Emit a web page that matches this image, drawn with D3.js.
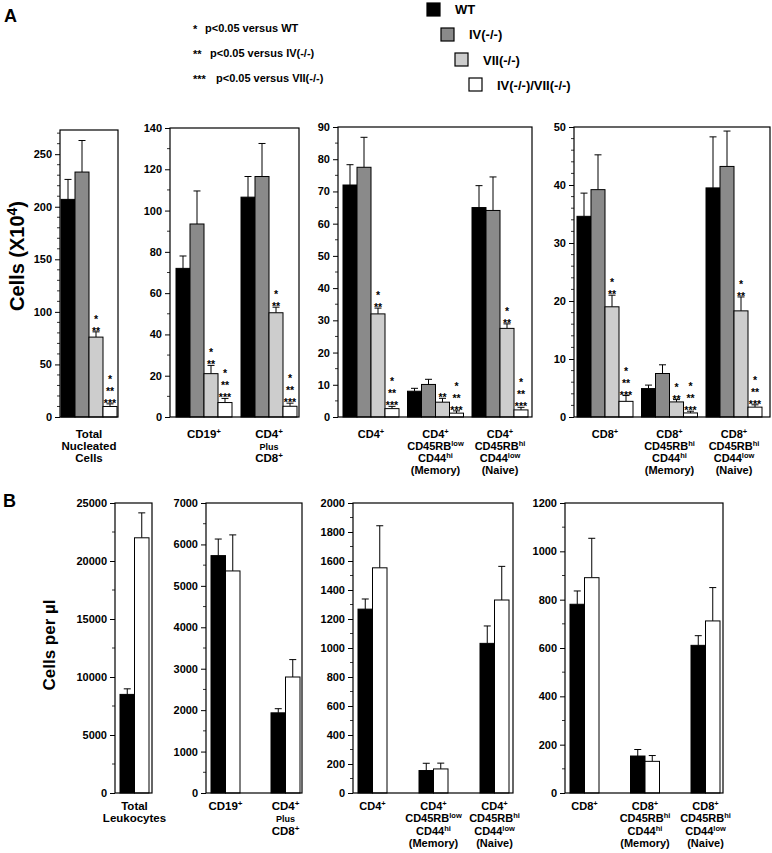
<!DOCTYPE html>
<html><head><meta charset="utf-8">
<script src="https://cdn.jsdelivr.net/npm/d3@7"></script>
<style>body{margin:0;background:#fff;}svg{display:block;}text{font-family:"Liberation Sans",Arial,Helvetica,sans-serif;font-weight:bold;fill:#000;}</style>
</head><body>
<svg id="chart" width="772" height="853"></svg>
<script>
// ---------------- DATA ----------------
const seriesA = ["WT", "IV(-/-)", "VII(-/-)", "IV(-/-)/VII(-/-)"];
const seriesB = ["WT", "IV(-/-)/VII(-/-)"];
const starNotes = ["p<0.05 versus WT", "p<0.05 versus IV(-/-)", "p<0.05 versus VII(-/-)"];

// Panel A1
const catsA1 = ["Total|Nucleated|Cells"];
const wtA1 = [207], ivA1 = [233], viiA1 = [76], dkoA1 = [10];
const wtA1Err = [19], ivA1Err = [30], viiA1Err = [5], dkoA1Err = [2.5];
const viiA1Stars = ["*|**"], dkoA1Stars = ["*|**|***"];
const ticksA1 = [0, 50, 100, 150, 200, 250];

// Panel A2
const catsA2 = ["CD19^+", "CD4^+|~Plus|CD8^+"];
const wtA2 = [72, 106.5], ivA2 = [93.5, 116.5], viiA2 = [21, 50.5], dkoA2 = [7, 5.2];
const wtA2Err = [6, 10], ivA2Err = [16, 16], viiA2Err = [4, 2.7], dkoA2Err = [2, 1.5];
const viiA2Stars = ["*|**", "*|**"], dkoA2Stars = ["*|**|***", "*|**|***"];
const ticksA2 = [0, 20, 40, 60, 80, 100, 120, 140];

// Panel A3
const catsA3 = ["CD4^+", "CD4^+|CD45RB^low|CD44^hi|(Memory)", "CD4^+|CD45RB^hi|CD44^low|(Naive)"];
const wtA3 = [72, 8, 65], ivA3 = [77.5, 10.1, 64.1], viiA3 = [32, 4.6, 27.5], dkoA3 = [2.6, 1.2, 2.2];
const wtA3Err = [6.3, 0.9, 6.8], ivA3Err = [9.3, 1.6, 10.4], viiA3Err = [1.8, 1.2, 1.4], dkoA3Err = [0.7, 0.7, 0.8];
const viiA3Stars = ["*|**", "**", "*|**"], dkoA3Stars = ["*|**|***", "*|**|***", "*|**|***"];
const ticksA3 = [0, 10, 20, 30, 40, 50, 60, 70, 80, 90];

// Panel A4
const catsA4 = ["CD8^+", "CD8^+|CD45RB^hi|CD44^hi|(Memory)", "CD8^+|CD45RB^hi|CD44^low|(Naive)"];
const wtA4 = [34.6, 4.9, 39.5], ivA4 = [39.2, 7.5, 43.2], viiA4 = [19, 2.6, 18.3], dkoA4 = [2.7, 0.7, 1.7];
const wtA4Err = [4, 0.6, 8.8], ivA4Err = [6, 1.5, 6.1], viiA4Err = [2, 0.4, 2.4], dkoA4Err = [1, 0.3, 0.4];
const viiA4Stars = ["*|**", "*|**", "*|**"], dkoA4Stars = ["*|**|***", "*|**|***", "*|**|***"];
const ticksA4 = [0, 10, 20, 30, 40, 50];

// Panel B1
const catsB1 = ["Total|Leukocytes"];
const wtB1 = [8500], dkoB1 = [22000];
const wtB1Err = [480], dkoB1Err = [2150];
const ticksB1 = [0, 5000, 10000, 15000, 20000, 25000];

// Panel B2
const catsB2 = ["CD19^+", "CD4^+|~Plus|CD8^+"];
const wtB2 = [5730, 1935], dkoB2 = [5360, 2800];
const wtB2Err = [400, 100], dkoB2Err = [870, 420];
const ticksB2 = [0, 1000, 2000, 3000, 4000, 5000, 6000, 7000];

// Panel B3
const catsB3 = ["CD4^+", "CD4^+|CD45RB^low|CD44^hi|(Memory)", "CD4^+|CD45RB^hi|CD44^low|(Naive)"];
const wtB3 = [1268, 155, 1032], dkoB3 = [1553, 166, 1331];
const wtB3Err = [70, 50, 120], dkoB3Err = [290, 40, 232];
const ticksB3 = [0, 200, 400, 600, 800, 1000, 1200, 1400, 1600, 1800, 2000];

// Panel B4
const catsB4 = ["CD8^+", "CD8^+|CD45RB^hi|CD44^hi|(Memory)", "CD8^+|CD45RB^hi|CD44^low|(Naive)"];
const wtB4 = [781, 153, 611], dkoB4 = [891, 131, 712];
const wtB4Err = [55, 27, 40], dkoB4Err = [163, 24, 138];
const ticksB4 = [0, 200, 400, 600, 800, 1000, 1200];

// ---------------- STYLE / LAYOUT ----------------
const fills = {"WT": "#000000", "IV(-/-)": "#8a8a8a", "VII(-/-)": "#cdcdcd", "IV(-/-)/VII(-/-)": "#ffffff"};
const svg = d3.select("#chart");

function addLabel(g, str, x, y, step, fs) {
  str.split("|").forEach((line, i) => {
    let small = false;
    if (line.startsWith("~")) { small = true; line = line.slice(1); }
    const t = g.append("text").attr("x", x).attr("y", y + i * step)
      .attr("text-anchor", "middle").style("font-size", (small ? fs - 2.5 : fs) + "px");
    const parts = line.split("^");
    t.append("tspan").text(parts[0]);
    if (parts.length > 1) {
      t.append("tspan").attr("dy", -4).style("font-size", (fs - 3.5) + "px").text(parts[1]);
    }
  });
}

function panel(cfg) {
  const g = svg.append("g");
  const y = d3.scaleLinear().domain([0, cfg.max]).range([cfg.yZero, cfg.yTop]);
  const n = cfg.cats.length;
  const nS = cfg.series.length;
  const gw = cfg.barW * nS;
  const R = cfg.r1 - cfg.r0;
  const pad = n > 1 ? ((R - n * gw) / (n - 1)) / (gw + (R - n * gw) / (n - 1)) : 0;
  const x0 = d3.scaleBand().domain(cfg.cats).range([cfg.r0, cfg.r1]).paddingInner(pad).paddingOuter(0);
  const x1 = d3.scaleBand().domain(cfg.series).range([0, x0.bandwidth()]);

  // minor ticks
  const minor = d3.range(0, cfg.max + 1e-9, cfg.minor).filter(v => !cfg.ticks.includes(v));
  g.selectAll(".mn").data(minor).enter().append("line")
    .attr("x1", cfg.xL - 3).attr("x2", cfg.xL).attr("y1", d => y(d)).attr("y2", d => y(d))
    .attr("stroke", "#000").attr("stroke-width", 0.8);

  // axis
  const ax = d3.axisLeft(y).tickValues(cfg.ticks).tickSize(5).tickPadding(3).tickFormat(d3.format("d"));
  const axg = g.append("g").attr("transform", `translate(${cfg.xL},0)`).call(ax);
  axg.select(".domain").remove();
  axg.selectAll("line").attr("stroke", "#000").attr("stroke-width", 1);
  axg.selectAll("text").style("font-size", "11px").style("font-family", '"Liberation Sans",Arial,sans-serif').style("font-weight", "bold");

  // bars
  cfg.cats.forEach((c, ci) => {
    cfg.series.forEach((s, si) => {
      const v = cfg.vals[si][ci], e = cfg.errs[si][ci];
      const bx = x0(c) + x1(s);
      const cx = bx + x1.bandwidth() / 2;
      // error bar (upward only)
      g.append("line").attr("x1", cx).attr("x2", cx).attr("y1", y(v)).attr("y2", y(v + e))
        .attr("stroke", "#000").attr("stroke-width", 1);
      g.append("line").attr("x1", cx - 3.5).attr("x2", cx + 3.5).attr("y1", y(v + e)).attr("y2", y(v + e))
        .attr("stroke", "#000").attr("stroke-width", 1);
      g.append("rect").attr("x", bx).attr("y", y(v)).attr("width", x1.bandwidth()).attr("height", y(0) - y(v))
        .attr("fill", fills[s]).attr("stroke", "#000").attr("stroke-width", 1);
      const st = cfg.stars && cfg.stars[si] ? cfg.stars[si][ci] : null;
      if (st) {
        const lines = st.split("|").reverse();
        lines.forEach((l, li) => {
          g.append("text").attr("x", cx).attr("y", y(v + e) + 3 - li * 12)
            .attr("text-anchor", "middle").style("font-size", "10.5px").style("fill", "#000").text(l);
        });
      }
    });
    addLabel(g, c, x0(c) + x0.bandwidth() / 2, cfg.yZero + cfg.labDy, cfg.labStep, cfg.labFs || 11.5);
  });

  // frame
  g.append("rect").attr("x", cfg.xL).attr("y", cfg.yTop).attr("width", cfg.xR - cfg.xL).attr("height", cfg.yZero - cfg.yTop)
    .attr("fill", "none").attr("stroke", "#000").attr("stroke-width", 1.2);
}

const A = {yZero: 417, labDy: 21, labStep: 12};
panel(Object.assign({}, A, {cats: catsA1, series: seriesA, vals: [wtA1, ivA1, viiA1, dkoA1], errs: [wtA1Err, ivA1Err, viiA1Err, dkoA1Err],
  stars: [null, null, viiA1Stars, dkoA1Stars], max: 273, yTop: 130, ticks: ticksA1, minor: 10, xL: 60, xR: 118, r0: 61, r1: 117, barW: 14}));
panel(Object.assign({}, A, {cats: catsA2, series: seriesA, vals: [wtA2, ivA2, viiA2, dkoA2], errs: [wtA2Err, ivA2Err, viiA2Err, dkoA2Err],
  stars: [null, null, viiA2Stars, dkoA2Stars], max: 140, yTop: 128, ticks: ticksA2, minor: 10, xL: 170, xR: 299, r0: 176, r1: 297, barW: 14}));
panel(Object.assign({}, A, {cats: catsA3, series: seriesA, vals: [wtA3, ivA3, viiA3, dkoA3], errs: [wtA3Err, ivA3Err, viiA3Err, dkoA3Err],
  stars: [null, null, viiA3Stars, dkoA3Stars], max: 90, yTop: 127, ticks: ticksA3, minor: 5, xL: 338, xR: 532, r0: 343, r1: 528, barW: 14, labFs: 11}));
panel(Object.assign({}, A, {cats: catsA4, series: seriesA, vals: [wtA4, ivA4, viiA4, dkoA4], errs: [wtA4Err, ivA4Err, viiA4Err, dkoA4Err],
  stars: [null, null, viiA4Stars, dkoA4Stars], max: 50, yTop: 127, ticks: ticksA4, minor: 2, xL: 574, xR: 770, r0: 577, r1: 762, barW: 14, labFs: 11}));

const B = {yZero: 793, yTop: 503, labDy: 17, labStep: 12.3};
panel(Object.assign({}, B, {cats: catsB1, series: seriesB, vals: [wtB1, dkoB1], errs: [wtB1Err, dkoB1Err],
  max: 25000, ticks: ticksB1, minor: 2500, xL: 115, xR: 152, r0: 120, r1: 149, barW: 14.5}));
panel(Object.assign({}, B, {cats: catsB2, series: seriesB, vals: [wtB2, dkoB2], errs: [wtB2Err, dkoB2Err],
  max: 7000, ticks: ticksB2, minor: 500, xL: 206, xR: 302, r0: 211, r1: 300, barW: 14.5}));
panel(Object.assign({}, B, {cats: catsB3, series: seriesB, vals: [wtB3, dkoB3], errs: [wtB3Err, dkoB3Err],
  max: 2000, ticks: ticksB3, minor: 100, xL: 353, xR: 513, r0: 358, r1: 509, barW: 14.5, labFs: 11}));
panel(Object.assign({}, B, {cats: catsB4, series: seriesB, vals: [wtB4, dkoB4], errs: [wtB4Err, dkoB4Err],
  max: 1200, ticks: ticksB4, minor: 100, xL: 565, xR: 723, r0: 570, r1: 720, barW: 14.5, labFs: 11}));

// Panel letters
svg.append("text").attr("x", 4).attr("y", 22).style("font-size", "18px").text("A");
svg.append("text").attr("x", 3).attr("y", 507).style("font-size", "18px").text("B");

// Y titles
const yt1 = svg.append("text").attr("transform", "translate(24,256) rotate(-90)").attr("text-anchor", "middle").style("font-size", "20px");
yt1.append("tspan").text("Cells (X10");
yt1.append("tspan").attr("dy", -7).style("font-size", "14px").text("4");
yt1.append("tspan").attr("dy", 7).text(")");
svg.append("text").attr("transform", "translate(55,645) rotate(-90)").attr("text-anchor", "middle").style("font-size", "17px").text("Cells per \u00b5l");

// Significance legend
const starSyms = ["*", "**", "***"];
const noteX = [205, 210, 216];
starNotes.forEach((t, i) => {
  svg.append("text").attr("x", 193).attr("y", 33 + i * 25).style("font-size", "11px").text(starSyms[i]);
  svg.append("text").attr("x", noteX[i]).attr("y", 32 + i * 25).style("font-size", "11px").text(t);
});

// Series legend
seriesA.forEach((s, i) => {
  svg.append("rect").attr("x", 427 + i * 14).attr("y", 3 + i * 25).attr("width", 13).attr("height", 13)
    .attr("fill", fills[s]).attr("stroke", "#000").attr("stroke-width", 1.2);
  svg.append("text").attr("x", 455 + i * 14).attr("y", 14 + i * 25.3).style("font-size", "13px").text(s);
});
</script>
</body></html>
